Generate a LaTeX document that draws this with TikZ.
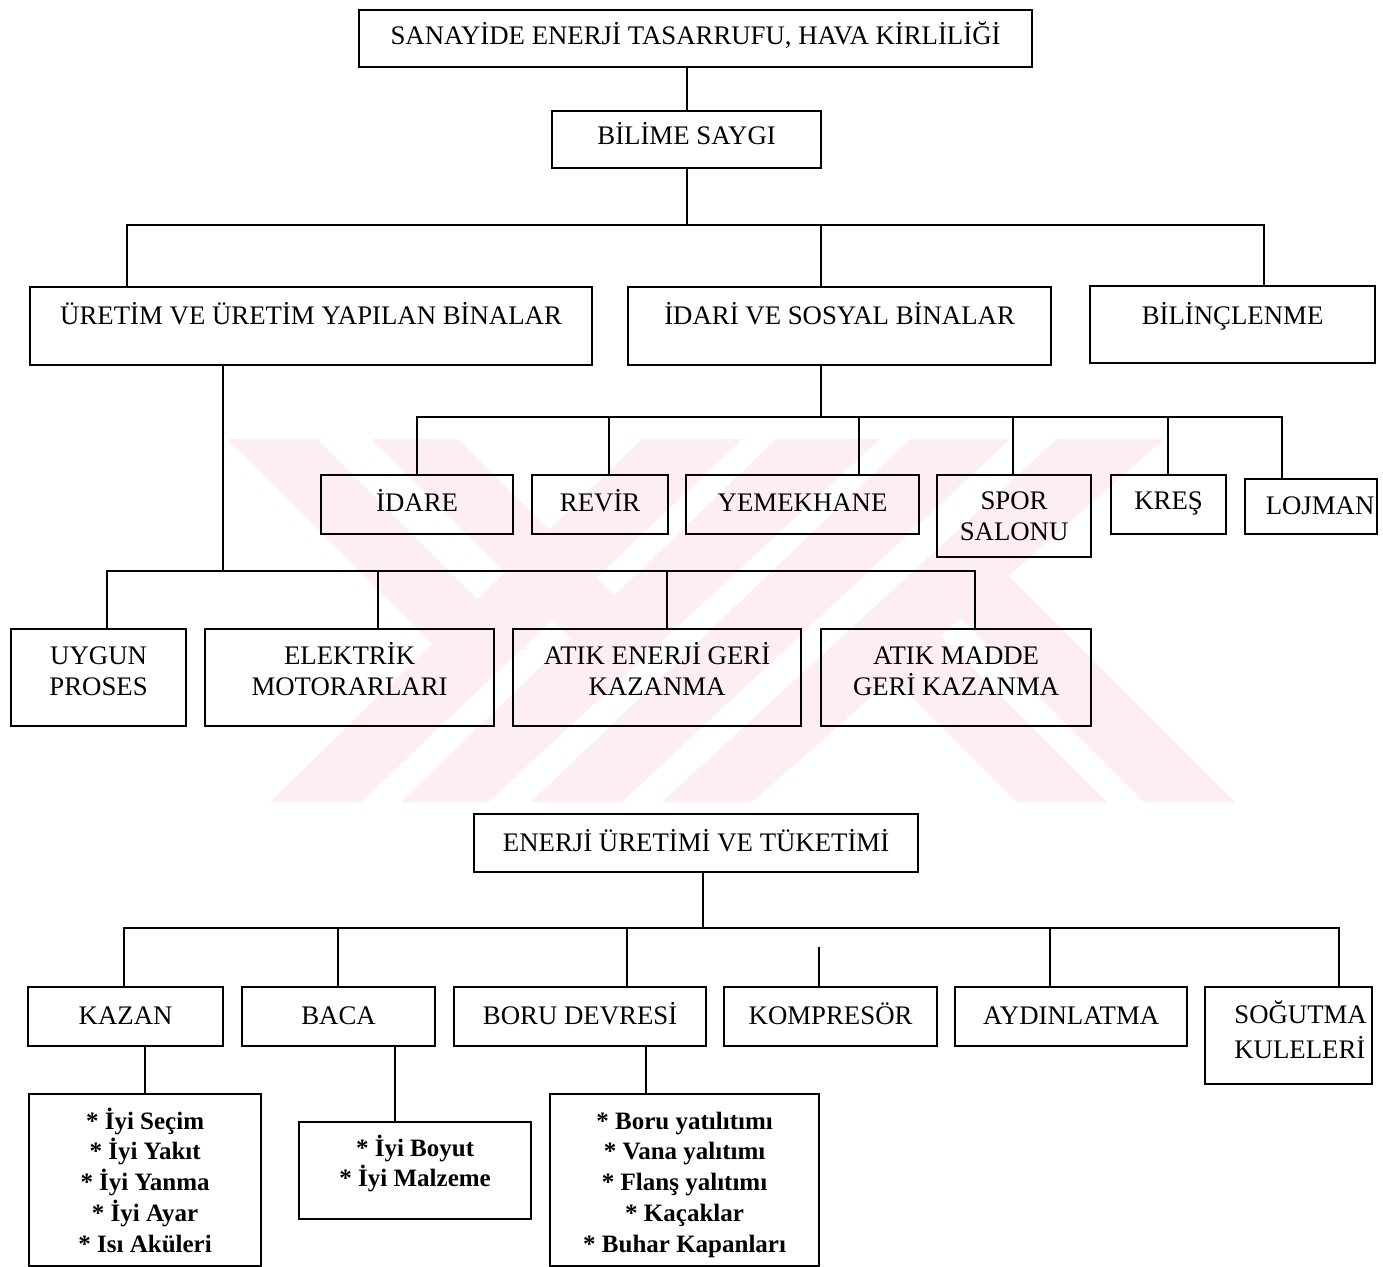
\documentclass[tikz,border=0pt]{standalone}
\usepackage{fontspec}
\setmainfont{Liberation Serif}
\definecolor{wm}{RGB}{253,238,241}
\newcommand{\twol}[1]{\begin{tabular}[t]{@{}c@{}}#1\end{tabular}}
\tikzset{
  bx/.style n args={3}{draw, line width=1.1pt, inner sep=0pt, anchor=north west,
    minimum width=#1*0.5pt, text height=#3*0.5pt, text depth=(#2-#3)*0.5pt,
    font=\fontsize{13.4}{15.5}\selectfont},
  lst/.style={font=\fontsize{12.5}{15.4}\selectfont\bfseries},
  ln/.style={line width=1.1pt},
}
\begin{document}
\begin{tikzpicture}[x=0.5pt,y=-0.5pt]
\useasboundingbox (0,0) rectangle (1383,1266);
% watermark
\fill[wm] (642,439) -- (742,439) -- (361,802) -- (270,802) -- cycle;
\fill[wm] (776,439) -- (880,439) -- (488,802) -- (401,802) -- cycle;
\fill[wm] (910,439) -- (1010,439) -- (622,802) -- (531,802) -- cycle;
\fill[wm] (1057,439) -- (1164,439) -- (752,802) -- (662,802) -- cycle;
\fill[wm] (227,439) -- (317,439) -- (527,649) -- (437,649) -- cycle;
\fill[wm] (371,439) -- (458,439) -- (665,646) -- (578,646) -- cycle;
\fill[wm] (870,655) -- (918,613) -- (1107,802) -- (1017,802) -- cycle;
\fill[wm] (937,595) -- (985,552) -- (1235,802) -- (1144,802) -- cycle;

% level 0-1
\node[bx={673}{57}{34}] (t1) at (358,9) {SANAYİDE ENERJİ TASARRUFU, HAVA KİRLİLİĞİ};
\node[bx={269}{57}{33}] (t2) at (551,110) {BİLİME SAYGI};
% level 2
\node[bx={562}{78}{37}] (c1) at (29,286) {ÜRETİM VE ÜRETİM YAPILAN BİNALAR};
\node[bx={423}{78}{37}] (c2) at (627,286) {İDARİ VE SOSYAL BİNALAR};
\node[bx={285}{77}{38}] (c3) at (1089,285) {BİLİNÇLENME};
% level 3 (idari)
\node[bx={192}{59}{36}] (d1) at (320,474) {İDARE};
\node[bx={136}{59}{36}] (d2) at (531,474) {REVİR};
\node[bx={233}{59}{36}] (d3) at (685,474) {YEMEKHANE};
\node[bx={154}{82}{34}] (d4) at (936,474) {\twol{SPOR\\SALONU}};
\node[bx={115}{59}{34}] (d5) at (1110,474) {KREŞ};
\node[bx={132}{55}{35}] (d6) at (1244,478) {\hspace*{9pt}LOJMAN};
% level 3 (uretim)
\node[bx={175}{97}{35}] (e1) at (10,628) {\twol{UYGUN\\PROSES}};
\node[bx={289}{97}{35}] (e2) at (204,628) {\twol{ELEKTRİK\\MOTORARLARI}};
\node[bx={288}{97}{35}] (e3) at (512,628) {\twol{ATIK ENERJİ GERİ\\KAZANMA}};
\node[bx={270}{97}{35}] (e4) at (820,628) {\twol{ATIK MADDE\\GERİ KAZANMA}};
% energy
\node[bx={444}{58}{37}] (f0) at (473,813) {ENERJİ ÜRETİMİ VE TÜKETİMİ};
\node[bx={195}{59}{37}] (g1) at (27,986) {KAZAN};
\node[bx={193}{59}{37}] (g2) at (241,986) {BACA};
\node[bx={252}{59}{37}] (g3) at (453,986) {BORU DEVRESİ};
\node[bx={213}{59}{37}] (g4) at (723,986) {KOMPRESÖR};
\node[bx={232}{59}{37}] (g5) at (954,986) {AYDINLATMA};
\node[bx={167}{97}{36}] (g6) at (1204,986) {\begin{tabular}[t]{@{\hspace{12pt}}l@{}}SOĞUTMA\\[2pt]KULELERİ\end{tabular}};
\node[bx={232}{172}{35},lst] (h1) at (28,1093) {\twol{* İyi Seçim\\{}* İyi Yakıt\\{}* İyi Yanma\\{}* İyi Ayar\\{}* Isı Aküleri}};
\node[bx={232}{97}{34},lst] (h2) at (298,1121) {\twol{* İyi Boyut\\{}* İyi Malzeme}};
\node[bx={269}{172}{35},lst] (h3) at (549,1093) {\twol{* Boru yatılıtımı\\{}* Vana yalıtımı\\{}* Flanş yalıtımı\\{}* Kaçaklar\\{}* Buhar Kapanları}};

% connectors
\coordinate (a1) at (127,225); \coordinate (a2) at (821,225); \coordinate (a3) at (1264,225);
\draw[ln] (t1.south -| t2.north) -- (t2.north);
\draw[ln] (t2.south) -- (t2.south |- a1);
\draw[ln] (c1.north -| a1) -- (a1) -- (a3) -- (c3.north -| a3);
\draw[ln] (a2) -- (c2.north -| a2);

\coordinate (b0) at (821,417);
\coordinate (b1) at (417,417); \coordinate (b2) at (609,417); \coordinate (b3) at (859,417);
\coordinate (b4) at (1013,417); \coordinate (b5) at (1168,417); \coordinate (b6) at (1282,417);
\draw[ln] (c2.south -| b0) -- (b0);
\draw[ln] (d1.north -| b1) -- (b1) -- (b6) -- (d6.north -| b6);
\draw[ln] (b2) -- (d2.north -| b2);
\draw[ln] (b3) -- (d3.north -| b3);
\draw[ln] (b4) -- (d4.north -| b4);
\draw[ln] (b5) -- (d5.north -| b5);

\coordinate (k0) at (223,571);
\coordinate (k1) at (107,571); \coordinate (k2) at (378,571); \coordinate (k3) at (667,571); \coordinate (k4) at (975,571);
\draw[ln] (c1.south -| k0) -- (k0);
\draw[ln] (e1.north -| k1) -- (k1) -- (k4) -- (e4.north -| k4);
\draw[ln] (k2) -- (e2.north -| k2);
\draw[ln] (k3) -- (e3.north -| k3);

\coordinate (m0) at (703,928);
\coordinate (m1) at (124,928); \coordinate (m2) at (338,928); \coordinate (m3) at (627,928);
\coordinate (m4) at (819,947); \coordinate (m5) at (1050,928); \coordinate (m6) at (1339,928);
\draw[ln] (f0.south -| m0) -- (m0);
\draw[ln] (g1.north -| m1) -- (m1) -- (m6) -- (g6.north -| m6);
\draw[ln] (m2) -- (g2.north -| m2);
\draw[ln] (m3) -- (g3.north -| m3);
\draw[ln] (m4) -- (g4.north -| m4);
\draw[ln] (m5) -- (g5.north -| m5);

\coordinate (p2) at (395,1045); \coordinate (p3) at (646,1045);
\draw[ln] (h1.north) -- (h1.north |- g1.south);
\draw[ln] (p2) -- (p2 |- h2.north);
\draw[ln] (p3) -- (p3 |- h3.north);
\end{tikzpicture}
\end{document}
